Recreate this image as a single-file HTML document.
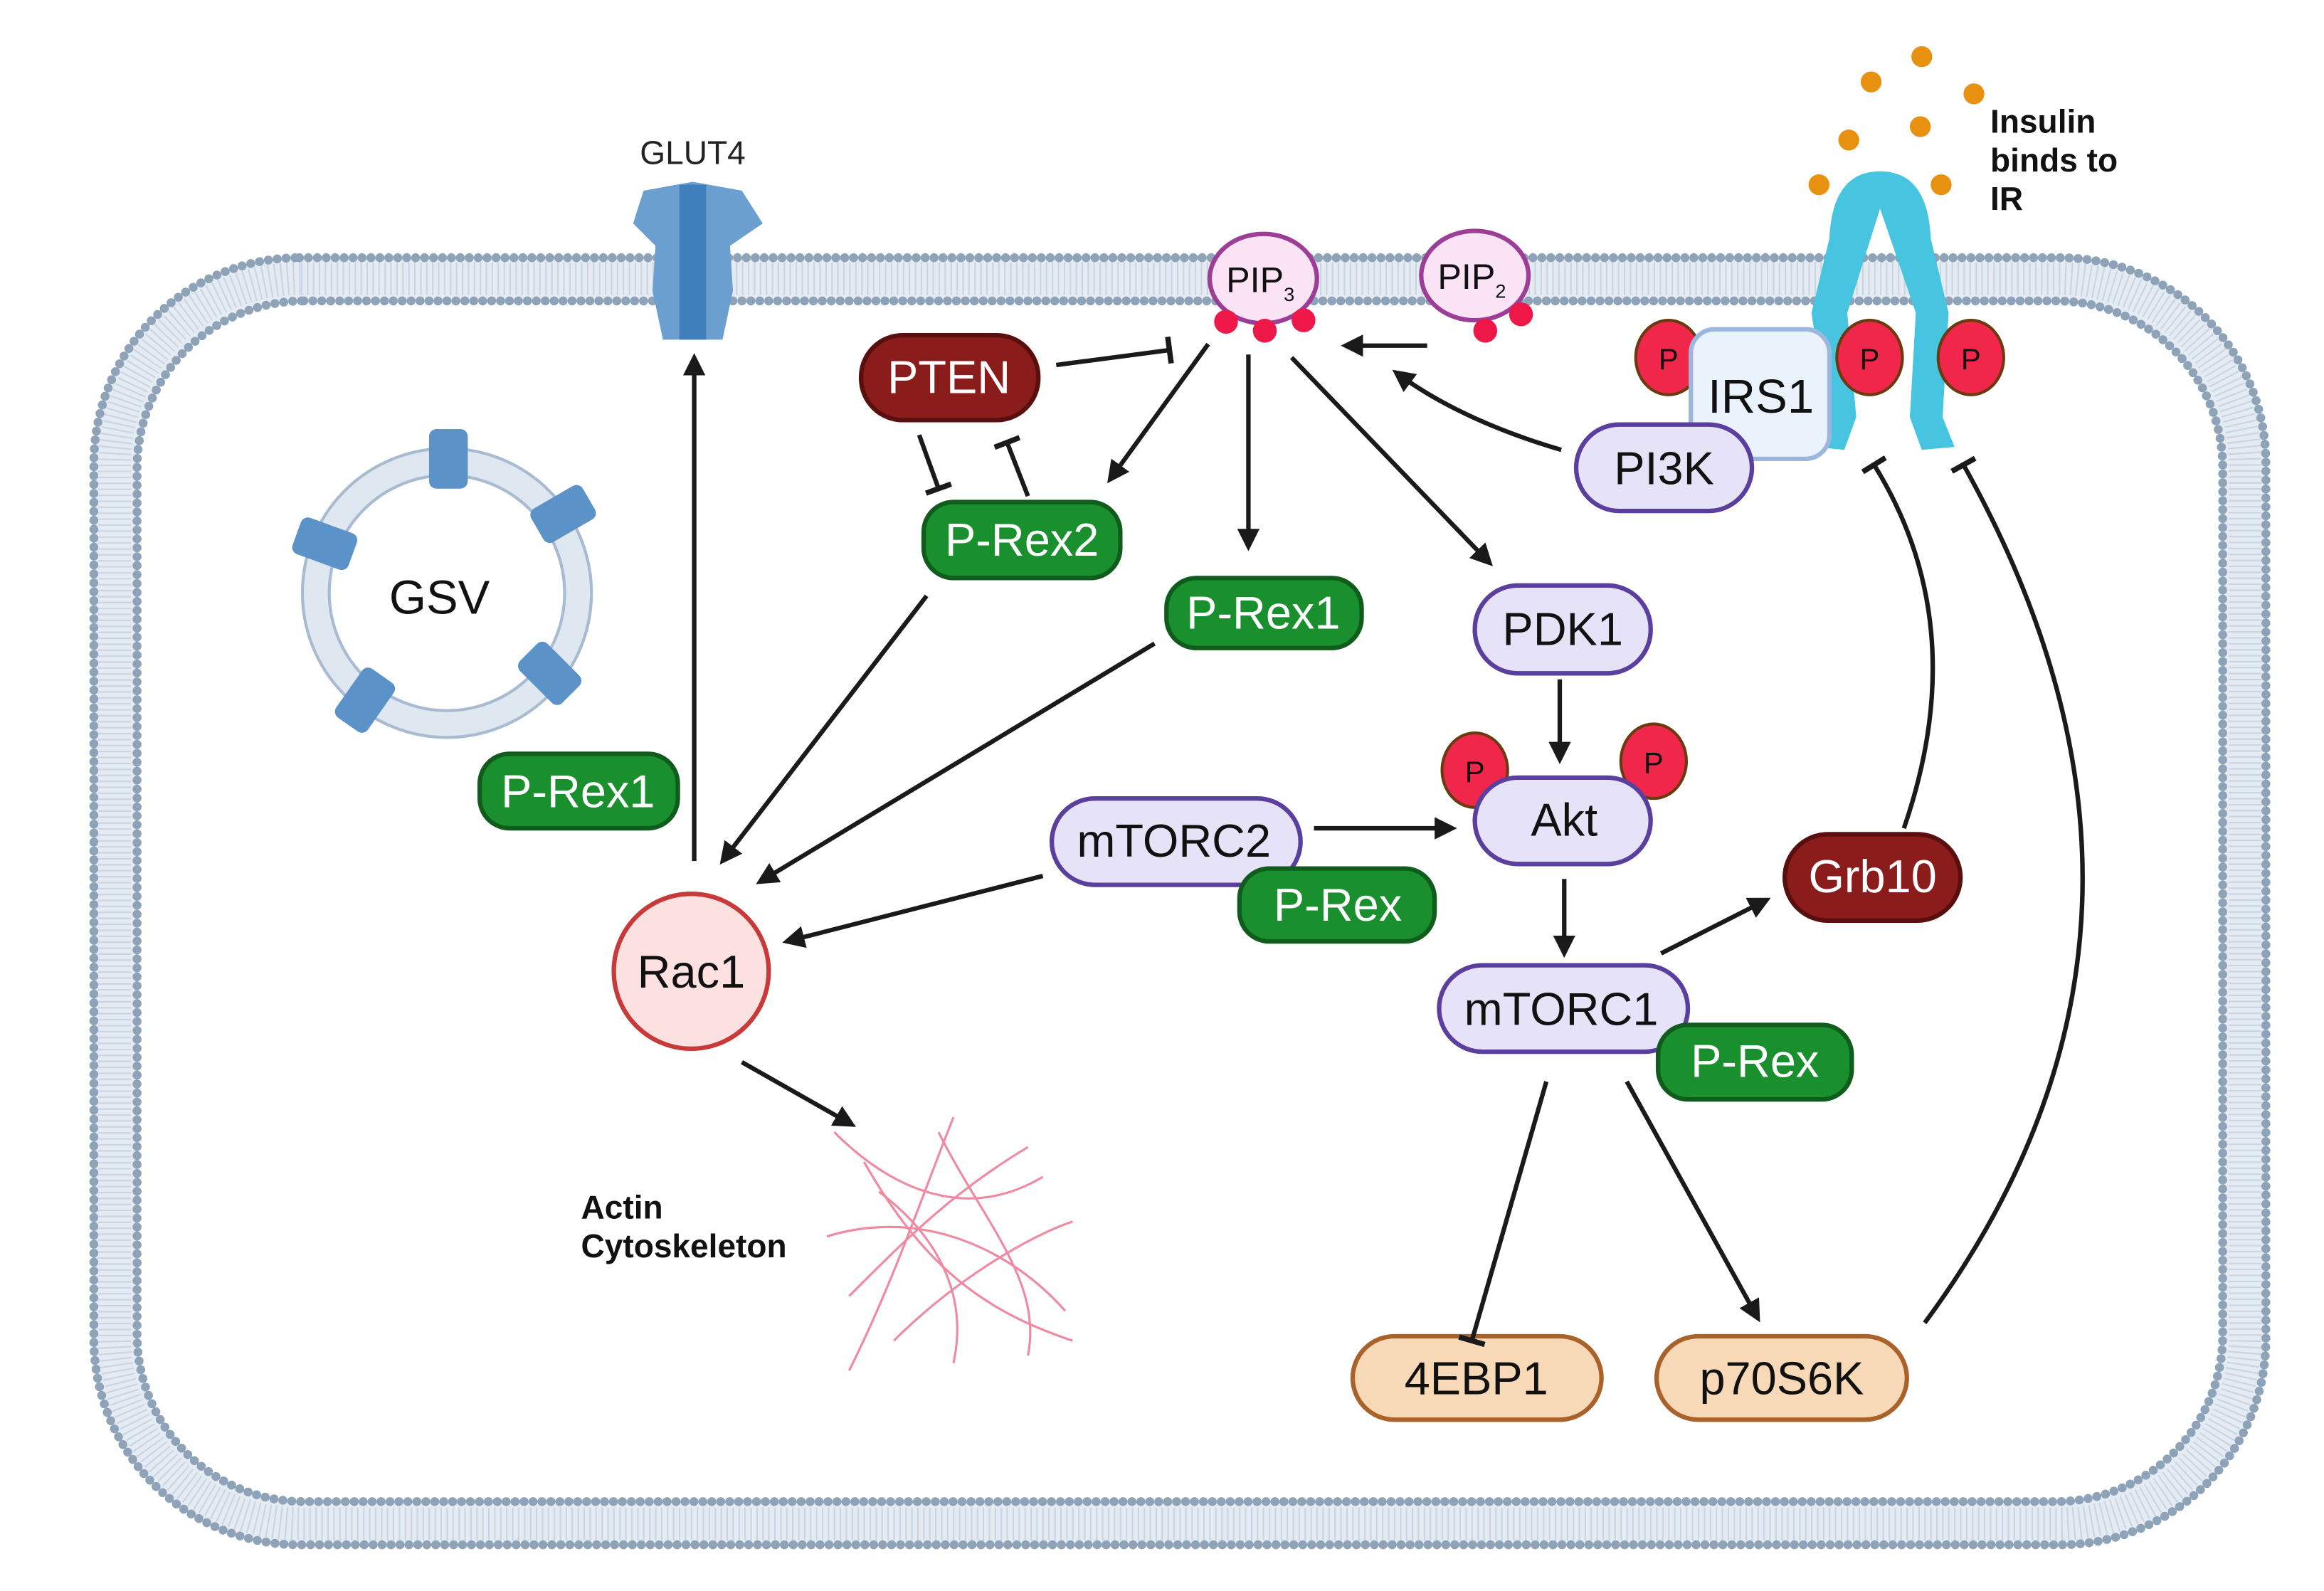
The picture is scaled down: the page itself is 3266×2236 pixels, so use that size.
<!DOCTYPE html>
<html><head><meta charset="utf-8"><style>
html,body{margin:0;padding:0;background:#fff;}
svg{display:block;}
text{font-family:"Liberation Sans",sans-serif;}
</style></head><body>
<svg width="3266" height="2236" viewBox="0 0 1560 1068" xmlns="http://www.w3.org/2000/svg">
<defs>
<marker id="ar" viewBox="0 0 10 10" refX="8" refY="5" markerWidth="5" markerHeight="5" orient="auto"><path d="M0,0 L10,5 L0,10 z" fill="#1a1a1a"/></marker>
<marker id="tb" viewBox="0 0 10 10" refX="5" refY="5" markerWidth="6" markerHeight="6" orient="auto"><path d="M5,0 L5,10" stroke="#1a1a1a" stroke-width="2"/></marker>
</defs>
<rect width="1560" height="1068" fill="#fff"/>
<!-- membrane -->
<rect x="77" y="187" width="1430" height="836" rx="125" fill="none" stroke="#e4ebf3" stroke-width="30"/>
<rect x="77" y="187" width="1430" height="836" rx="125" fill="none" stroke="#c9d5e2" stroke-width="22" stroke-dasharray="1 3"/>
<rect x="63" y="173" width="1458" height="864" rx="138" fill="none" stroke="#8fa3b8" stroke-width="6" stroke-dasharray="0 6" stroke-linecap="round"/>
<rect x="92" y="202" width="1400" height="806" rx="112" fill="none" stroke="#8fa3b8" stroke-width="6" stroke-dasharray="0 6" stroke-linecap="round"/>
<!-- GLUT4 -->
<text x="465" y="110" font-size="22" text-anchor="middle" fill="#222">GLUT4</text>
<path d="M432,128 L465,122 L465,228 L445,228 L438,195 L440,165 L425,150 Z" fill="#6b9fcf"/>
<path d="M498,128 L465,122 L465,228 L485,228 L492,195 L490,165 L512,150 Z" fill="#6b9fcf"/>
<rect x="456" y="124" width="18" height="104" fill="#3f7fbb"/>
<!-- GSV -->
<circle cx="300" cy="398" r="88" fill="none" stroke="#dfe7f1" stroke-width="18"/>
<circle cx="300" cy="398" r="97" fill="none" stroke="#a9bbd0" stroke-width="2"/>
<circle cx="300" cy="398" r="79" fill="none" stroke="#a9bbd0" stroke-width="2"/>
<g fill="#5b93c9">
<rect x="288" y="288" width="26" height="40" rx="5"/>
<rect x="365" y="325" width="26" height="40" rx="5" transform="rotate(60 378 345)"/>
<rect x="205" y="345" width="26" height="40" rx="5" transform="rotate(-70 218 365)"/>
<rect x="356" y="432" width="26" height="40" rx="5" transform="rotate(-45 369 452)"/>
<rect x="232" y="450" width="26" height="40" rx="5" transform="rotate(35 245 470)"/>
</g>
<text x="295" y="412" font-size="32" text-anchor="middle" fill="#111">GSV</text>
<!-- insulin -->
<g fill="#e8900f"><circle cx="1256" cy="55" r="7"/><circle cx="1290" cy="38" r="7"/><circle cx="1325" cy="63" r="7"/><circle cx="1241" cy="94" r="7"/><circle cx="1289" cy="85" r="7"/><circle cx="1221" cy="124" r="7"/><circle cx="1303" cy="124" r="7"/></g>
<text font-size="22" font-weight="bold" fill="#111"><tspan x="1336" y="89">Insulin</tspan><tspan x="1336" y="115">binds to</tspan><tspan x="1336" y="141">IR</tspan></text>
<!-- IR -->
<path d="M1228,160 Q1230,115 1262,115 Q1294,115 1296,160 L1308,210 L1304,280 L1312,300 L1290,302 L1282,280 L1286,210 L1262,140 L1240,210 L1246,280 L1238,302 L1218,300 L1226,280 L1216,210 Z" fill="#47c4e0"/>
<!-- PIP -->
<ellipse cx="848" cy="187" rx="36" ry="30" fill="#fbe3f6" stroke="#9c3e95" stroke-width="3"/>
<text x="846" y="196" font-size="24" text-anchor="middle" fill="#111">PIP<tspan font-size="13" dy="6">3</tspan></text>
<g fill="#ee1848"><circle cx="823" cy="216" r="8"/><circle cx="849" cy="222" r="8"/><circle cx="875" cy="215" r="8"/></g>
<ellipse cx="990" cy="185" rx="36" ry="30" fill="#fbe3f6" stroke="#9c3e95" stroke-width="3"/>
<text x="988" y="194" font-size="24" text-anchor="middle" fill="#111">PIP<tspan font-size="13" dy="6">2</tspan></text>
<g fill="#ee1848"><circle cx="997" cy="222" r="8"/><circle cx="1021" cy="211" r="8"/></g>
<!-- P circles -->
<g fill="#f0274a" stroke="#6b3a10" stroke-width="2">
<ellipse cx="1120" cy="240" rx="22" ry="25"/><ellipse cx="1255" cy="240" rx="22" ry="25"/><ellipse cx="1323" cy="240" rx="22" ry="25"/>
<ellipse cx="990" cy="517" rx="22" ry="25"/><ellipse cx="1110" cy="511" rx="22" ry="25"/></g>
<g font-size="20" fill="#111" text-anchor="middle"><text x="1120" y="248">P</text><text x="1255" y="248">P</text><text x="1323" y="248">P</text><text x="990" y="525">P</text><text x="1110" y="519">P</text></g>
<!-- IRS1 / PI3K -->
<rect x="1135" y="221" width="93" height="87" rx="16" fill="#eaf3fc" stroke="#9bb7dd" stroke-width="3"/>
<text x="1182" y="277" font-size="32" text-anchor="middle" fill="#111">IRS1</text>
<rect x="1058" y="285" width="118" height="58" rx="29" fill="#e6e2f7" stroke="#5b3f9e" stroke-width="3"/>
<text x="1117" y="325" font-size="31" text-anchor="middle" fill="#111">PI3K</text>
<!-- nodes -->
<g font-size="31" text-anchor="middle">
<rect x="578" y="225" width="119" height="57" rx="28" fill="#8b1c1c" stroke="#5a0f0f" stroke-width="3"/><text x="637" y="264" fill="#fff">PTEN</text>
<rect x="620" y="337" width="132" height="51" rx="20" fill="#1a8f2e" stroke="#0f5c1c" stroke-width="3"/><text x="686" y="373" fill="#fff">P-Rex2</text>
<rect x="783" y="388" width="131" height="47" rx="20" fill="#1a8f2e" stroke="#0f5c1c" stroke-width="3"/><text x="848" y="422" fill="#fff">P-Rex1</text>
<rect x="322" y="506" width="133" height="50" rx="20" fill="#1a8f2e" stroke="#0f5c1c" stroke-width="3"/><text x="388" y="542" fill="#fff">P-Rex1</text>
<rect x="990" y="393" width="118" height="59" rx="29" fill="#e6e2f7" stroke="#5b3f9e" stroke-width="3"/><text x="1049" y="433" fill="#111">PDK1</text>
<rect x="990" y="522" width="118" height="58" rx="29" fill="#e6e2f7" stroke="#5b3f9e" stroke-width="3"/><text x="1050" y="561" fill="#111">Akt</text>
<rect x="706" y="536" width="167" height="58" rx="29" fill="#e6e2f7" stroke="#5b3f9e" stroke-width="3"/><text x="788" y="575" fill="#111">mTORC2</text>
<rect x="832" y="583" width="131" height="49" rx="20" fill="#1a8f2e" stroke="#0f5c1c" stroke-width="3"/><text x="898" y="618" fill="#fff">P-Rex</text>
<rect x="1198" y="560" width="118" height="58" rx="29" fill="#8b1c1c" stroke="#5a0f0f" stroke-width="3"/><text x="1257" y="599" fill="#fff">Grb10</text>
<rect x="966" y="648" width="167" height="58" rx="29" fill="#e6e2f7" stroke="#5b3f9e" stroke-width="3"/><text x="1048" y="688" fill="#111">mTORC1</text>
<rect x="1113" y="688" width="130" height="50" rx="20" fill="#1a8f2e" stroke="#0f5c1c" stroke-width="3"/><text x="1178" y="723" fill="#fff">P-Rex</text>
<rect x="908" y="897" width="167" height="56" rx="28" fill="#f7d9b8" stroke="#a8622a" stroke-width="3"/><text x="991" y="936" fill="#111">4EBP1</text>
<rect x="1112" y="897" width="168" height="56" rx="28" fill="#f7d9b8" stroke="#a8622a" stroke-width="3"/><text x="1196" y="936" fill="#111">p70S6K</text>
<circle cx="464" cy="652" r="52" fill="#fde0e0" stroke="#c83a3a" stroke-width="3"/><text x="464" y="663" fill="#111">Rac1</text>
</g>
<!-- actin -->
<g fill="none" stroke="#f08aa0" stroke-width="1.5">
<path d="M560,760 C600,800 650,820 700,790"/><path d="M580,780 C620,850 660,880 720,900"/><path d="M640,750 C620,800 600,860 570,920"/>
<path d="M555,830 C620,810 680,840 715,880"/><path d="M600,900 C640,860 690,830 720,820"/><path d="M630,760 C660,820 700,860 690,910"/>
<path d="M570,870 C610,830 640,800 690,770"/><path d="M590,800 C630,830 650,870 640,915"/>
</g>
<text font-size="22" font-weight="bold" fill="#111"><tspan x="390" y="818">Actin</tspan><tspan x="390" y="844">Cytoskeleton</tspan></text>
<!-- connectors -->
<g stroke="#1a1a1a" stroke-width="3" fill="none">
<path d="M466,578 L466,240" marker-end="url(#ar)"/>
<path d="M709,245 L785,235" marker-end="url(#tb)"/>
<path d="M617,292 L630,328" marker-end="url(#tb)"/>
<path d="M690,333 L676,297" marker-end="url(#tb)"/>
<path d="M811,231 L745,322" marker-end="url(#ar)"/>
<path d="M838,238 L838,367" marker-end="url(#ar)"/>
<path d="M867,240 L1000,378" marker-end="url(#ar)"/>
<path d="M958,232 L903,232" marker-end="url(#ar)"/>
<path d="M1048,302 Q980,282 937,250" marker-end="url(#ar)"/>
<path d="M622,400 L485,578" marker-end="url(#ar)"/>
<path d="M775,432 L510,592" marker-end="url(#ar)"/>
<path d="M700,588 L528,632" marker-end="url(#ar)"/>
<path d="M882,556 L975,556" marker-end="url(#ar)"/>
<path d="M1047,456 L1047,510" marker-end="url(#ar)"/>
<path d="M1050,590 L1050,640" marker-end="url(#ar)"/>
<path d="M1115,640 L1186,604" marker-end="url(#ar)"/>
<path d="M1038,726 L988,900" marker-end="url(#tb)"/>
<path d="M1092,726 L1180,885" marker-end="url(#ar)"/>
<path d="M1278,556 Q1325,420 1258,312" marker-end="url(#tb)"/>
<path d="M1292,888 Q1490,620 1318,312" marker-end="url(#tb)"/>
<path d="M498,713 L572,755" marker-end="url(#ar)"/>
</g>
</svg>
</body></html>
